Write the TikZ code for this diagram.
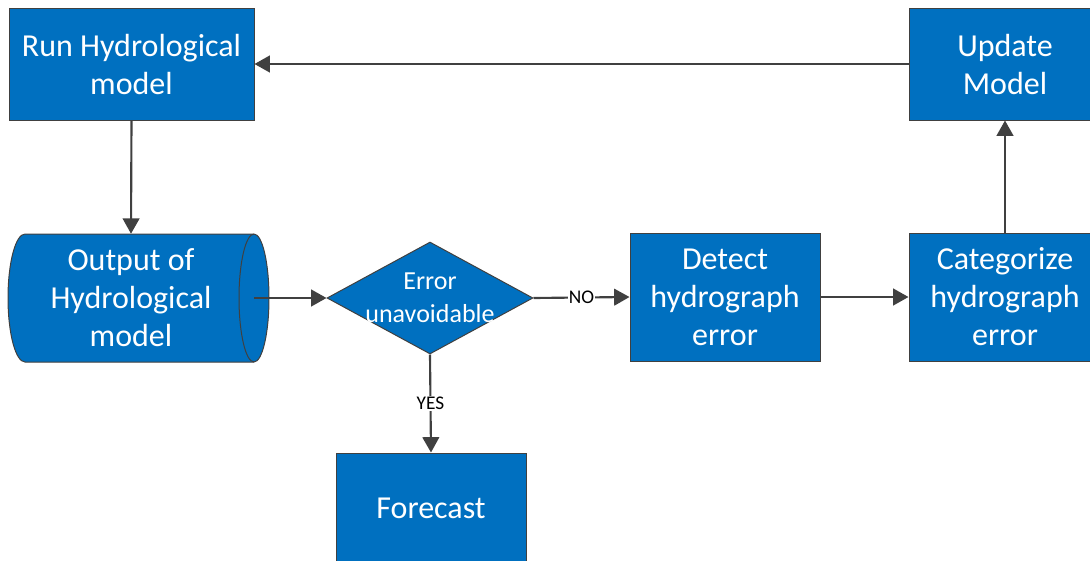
\documentclass[tikz,border=0pt]{standalone}
\usepackage{fontspec}
\setmainfont{Carlito}
\usetikzlibrary{shapes.geometric,arrows.meta}
\definecolor{boxblue}{HTML}{0070C0}
\definecolor{edgegray}{HTML}{404040}
\begin{document}
\begin{tikzpicture}[x=0.75pt,y=-0.75pt,
  box/.style={draw=edgegray,line width=0.75pt,fill=boxblue,text=white,align=center,font=\fontsize{24}{28.5}\selectfont,inner sep=0pt},
  txt/.style={text=white,align=center,font=\fontsize{24}{28.5}\selectfont,inner sep=0pt},
  shapeline/.style={draw=edgegray,line width=0.75pt},
  decision/.style={diamond,draw=edgegray,line width=0.75pt,fill=boxblue,inner sep=0pt,minimum width=154.5pt,minimum height=84pt},
  dtext/.style={text=white,align=center,font=\fontsize{19.5}{24.75}\selectfont,inner sep=0pt},
  arr/.style={draw=edgegray,line width=1.6pt,-{Triangle[length=11.5pt,width=12.5pt]}},
  lab/.style={fill=white,text=black,font=\fontsize{14.5}{16}\selectfont,inner sep=1pt}]
\useasboundingbox (0,0) rectangle (1090,561);
% nodes
\node[box,minimum width=183.75pt,minimum height=84pt] (run) at (131.5,64) {Run Hydrological\\model};
\node[box,minimum width=144pt,minimum height=84pt] (up) at (1005,64) {Update\\Model};
% stored data shape
\path[shapeline,fill=boxblue] (25,234) arc[start angle=90,end angle=270,x radius=12.75pt,y radius=48pt]
  -- (254,362) arc[start angle=-90,end angle=90,x radius=11.25pt,y radius=48pt] -- cycle;
\draw[shapeline] (254,234) arc[start angle=90,end angle=270,x radius=11.25pt,y radius=48pt];
\node[txt,minimum width=184.5pt,minimum height=96pt] (out) at (131,298) {Output of\\Hydrological\\model};
\node[decision,label={[dtext]center:Error\\unavoidable}] (d) at (430,298) {};
\node[box,minimum width=142.5pt,minimum height=96pt] (det) at (725,297) {Detect\\hydrograph\\error};
\node[box,minimum width=144pt,minimum height=96pt] (cat) at (1005,297) {Categorize\\hydrograph\\error};
\node[box,minimum width=142.5pt,minimum height=82.5pt] (fc) at (431,508) {Forecast};
% connectors
\draw[arr] (up.west) -- (run.east);
\draw[arr] (run.south) -- (out.north);
\draw[arr] (out.east) -- (d.west);
\draw[arr] (d.east) -- node[lab] {NO} (det.west);
\draw[arr] (det.east) -- (cat.west);
\draw[arr] (cat.north) -- (up.south);
\draw[arr] (d.south) -- node[lab] {YES} (fc.north);
\end{tikzpicture}
\end{document}
